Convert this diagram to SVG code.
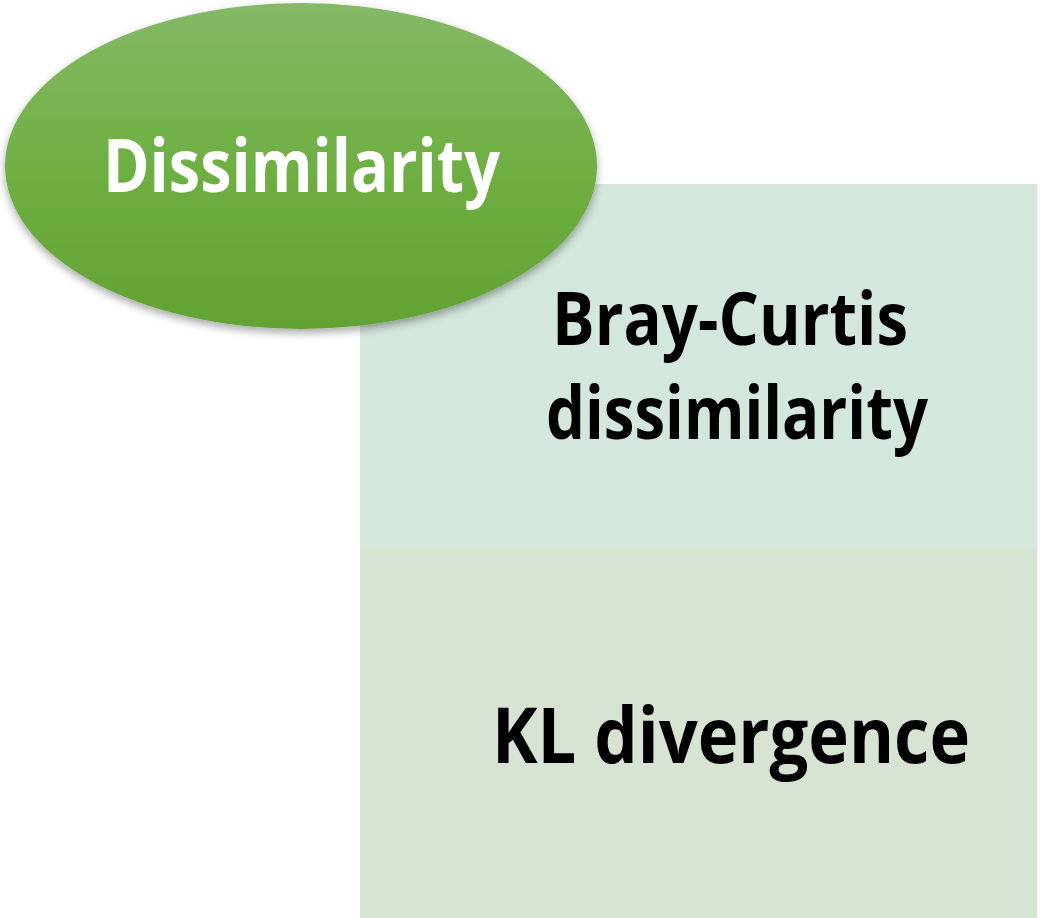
<svg xmlns="http://www.w3.org/2000/svg" width="1041" height="918" viewBox="0 0 1041 918">
  <defs>
    <linearGradient id="gEll" x1="0" y1="0" x2="0" y2="1">
      <stop offset="0" stop-color="#85b967"/>
      <stop offset="0.5" stop-color="#6faf43"/>
      <stop offset="1" stop-color="#62a233"/>
    </linearGradient>
    <filter id="shadow" x="-10%" y="-10%" width="120%" height="130%">
      <feDropShadow dx="0" dy="4" stdDeviation="4" flood-color="#000" flood-opacity="0.35"/>
    </filter>
  </defs>
  <style>
    .lbl { font-family: "Open Sans", "Liberation Sans", sans-serif; font-weight: 700; }
    .dark { fill: #000000; }
    .light { fill: #ffffff; }
  </style>
  <rect width="1041" height="918" fill="#ffffff"/>
  <g id="bray-curtis">
    <rect x="360" y="184" width="677" height="365" fill="#d4e7dc"/>
    <text class="lbl dark" x="552" y="345" font-size="74" textLength="356" lengthAdjust="spacingAndGlyphs">Bray-Curtis</text>
    <text class="lbl dark" x="546" y="439" font-size="74" textLength="382" lengthAdjust="spacingAndGlyphs">dissimilarity</text>
  </g>
  <g id="kl-divergence">
    <rect x="360" y="549" width="677" height="369" fill="#d8e4d3"/>
    <text class="lbl dark" x="492" y="763" font-size="77" textLength="478" lengthAdjust="spacingAndGlyphs">KL divergence</text>
  </g>
  <g id="dissimilarity">
    <ellipse cx="301" cy="166" rx="296" ry="163" fill="url(#gEll)" filter="url(#shadow)"/>
    <text class="lbl light" x="103" y="192" font-size="74" textLength="397" lengthAdjust="spacingAndGlyphs">Dissimilarity</text>
  </g>
  <g id="connectors"/>
</svg>
